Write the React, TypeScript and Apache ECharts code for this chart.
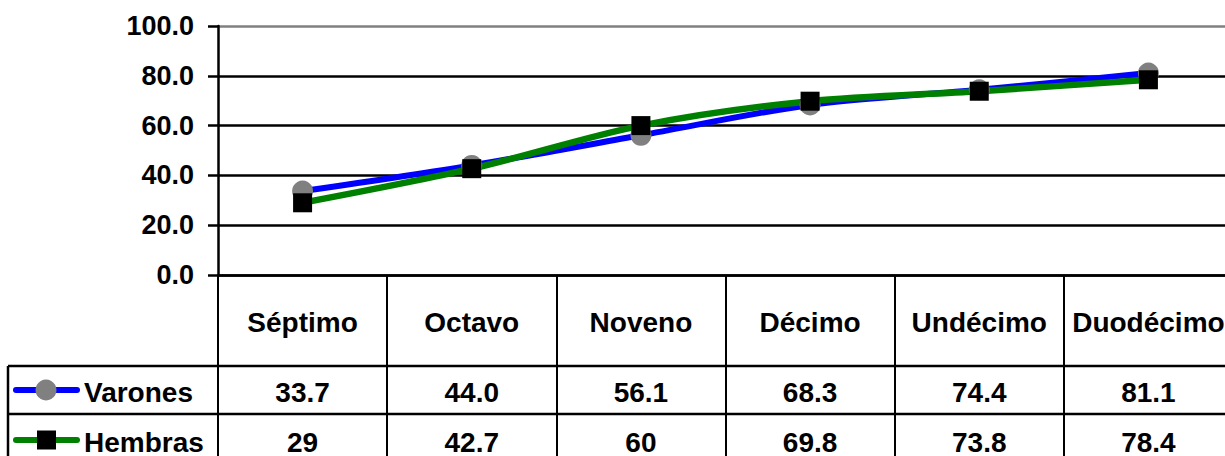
import React, { useEffect, useRef } from "react";
import * as echarts from "echarts";

const categories = ["Séptimo", "Octavo", "Noveno", "Décimo", "Undécimo", "Duodécimo"];
const varones = [33.7, 44.0, 56.1, 68.3, 74.4, 81.1];
const hembras = [29, 42.7, 60, 69.8, 73.8, 78.4];
const varonesLabels = ["33.7", "44.0", "56.1", "68.3", "74.4", "81.1"];
const hembrasLabels = ["29", "42.7", "60", "69.8", "73.8", "78.4"];
const seriesNames = ["Varones", "Hembras"];

const FONT = "Liberation Sans, Arial, sans-serif";
const W = 1225;
const H = 456;
const GRID_LEFT = 218;
const GRID_TOP = 26;
const GRID_BOTTOM = 181;
const GRID_WIDTH = 1015;
const ROW1_TOP = 366;
const ROW2_TOP = 414;
const TABLE_LEFT = 8;

export default function App() {
  const ref = useRef<HTMLDivElement>(null);
  useEffect(() => {
    if (!ref.current) return;
    const chart = echarts.init(ref.current, null, { renderer: "svg" });
    const option: any = {
      animation: false,
      backgroundColor: "#ffffff",
      grid: {
        left: GRID_LEFT,
        top: GRID_TOP,
        bottom: GRID_BOTTOM,
        width: GRID_WIDTH,
        containLabel: false,
        outerBoundsMode: "none",
      },
      xAxis: {
        type: "category",
        data: categories,
        boundaryGap: true,
        axisLine: { show: true, lineStyle: { color: "#000", width: 2.5 } },
        axisTick: { show: true, alignWithLabel: false, length: 200, lineStyle: { color: "#000", width: 2 } },
        axisLabel: {
          interval: 0,
          margin: 33,
          color: "#000",
          fontFamily: FONT,
          fontWeight: "bold",
          fontSize: 28,
        },
        splitLine: { show: false },
      },
      yAxis: {
        type: "value",
        min: 0,
        max: 100,
        interval: 20,
        axisLine: { show: true, lineStyle: { color: "#000", width: 2.5 } },
        axisTick: { show: true, length: 10, lineStyle: { color: "#000", width: 2.5 } },
        axisLabel: {
          margin: 24,
          color: "#000",
          fontFamily: FONT,
          fontWeight: "bold",
          fontSize: 27,
          formatter: (v: number) => v.toFixed(1),
        },
        splitLine: {
          show: true,
          lineStyle: { color: ["#000", "#000", "#000", "#000", "#000", "#808080"], width: 2.5 },
        },
      },
      series: [
        {
          name: seriesNames[0],
          type: "line",
          data: varones,
          smooth: 0.3,
          symbol: "circle",
          symbolSize: 21,
          lineStyle: { color: "#0000ff", width: 6 },
          itemStyle: { color: "#808080", borderWidth: 0 },
        },
        {
          name: seriesNames[1],
          type: "line",
          data: hembras,
          smooth: 0.3,
          symbol: "rect",
          symbolSize: 19,
          lineStyle: { color: "#008000", width: 6.5 },
          itemStyle: { color: "#000000", borderWidth: 0 },
        },
      ],
    };
    chart.setOption(option);

    const textStyle = (txt: string, x: number, y: number, align = "center") => ({
      type: "text",
      x,
      y,
      style: {
        text: txt,
        fill: "#000",
        font: `bold 28px ${FONT}`,
        textAlign: align,
        textVerticalAlign: "middle",
      },
    });

    const graphics: any[] = [];
    graphics.push({ type: "line", shape: { x1: TABLE_LEFT, y1: ROW1_TOP, x2: W, y2: ROW1_TOP }, style: { stroke: "#000", lineWidth: 2.5 } });
    graphics.push({ type: "line", shape: { x1: TABLE_LEFT, y1: ROW2_TOP, x2: W, y2: ROW2_TOP }, style: { stroke: "#000", lineWidth: 2.5 } });
    graphics.push({ type: "line", shape: { x1: TABLE_LEFT, y1: ROW1_TOP, x2: TABLE_LEFT, y2: H }, style: { stroke: "#000", lineWidth: 2.5 } });

    const rowMid1 = ROW1_TOP + 26;
    const rowMid2 = ROW2_TOP + 28;
    categories.forEach((c, i) => {
      const px = chart.convertToPixel({ xAxisIndex: 0 }, c) as number;
      graphics.push(textStyle(varonesLabels[i], px, rowMid1));
      graphics.push(textStyle(hembrasLabels[i], px, rowMid2));
    });
    graphics.push({ type: "line", shape: { x1: 16, y1: rowMid1 - 2, x2: 77, y2: rowMid1 - 2 }, style: { stroke: "#0000ff", lineWidth: 6, lineCap: "round" } });
    graphics.push({ type: "circle", shape: { cx: 46, cy: rowMid1 - 2, r: 10.5 }, style: { fill: "#808080" } });
    graphics.push(textStyle(seriesNames[0], 84, rowMid1, "left"));
    graphics.push({ type: "line", shape: { x1: 16, y1: rowMid2 - 2, x2: 77, y2: rowMid2 - 2 }, style: { stroke: "#008000", lineWidth: 6, lineCap: "round" } });
    graphics.push({ type: "rect", shape: { x: 37, y: rowMid2 - 2 - 9.5, width: 19, height: 19 }, style: { fill: "#000" } });
    graphics.push(textStyle(seriesNames[1], 84, rowMid2, "left"));

    chart.setOption({ graphic: graphics });
    return () => chart.dispose();
  }, []);
  return (
    <div
      ref={ref}
      style={{ position: "fixed", left: 0, top: 0, width: W, height: H, background: "#fff" }}
    />
  );
}
